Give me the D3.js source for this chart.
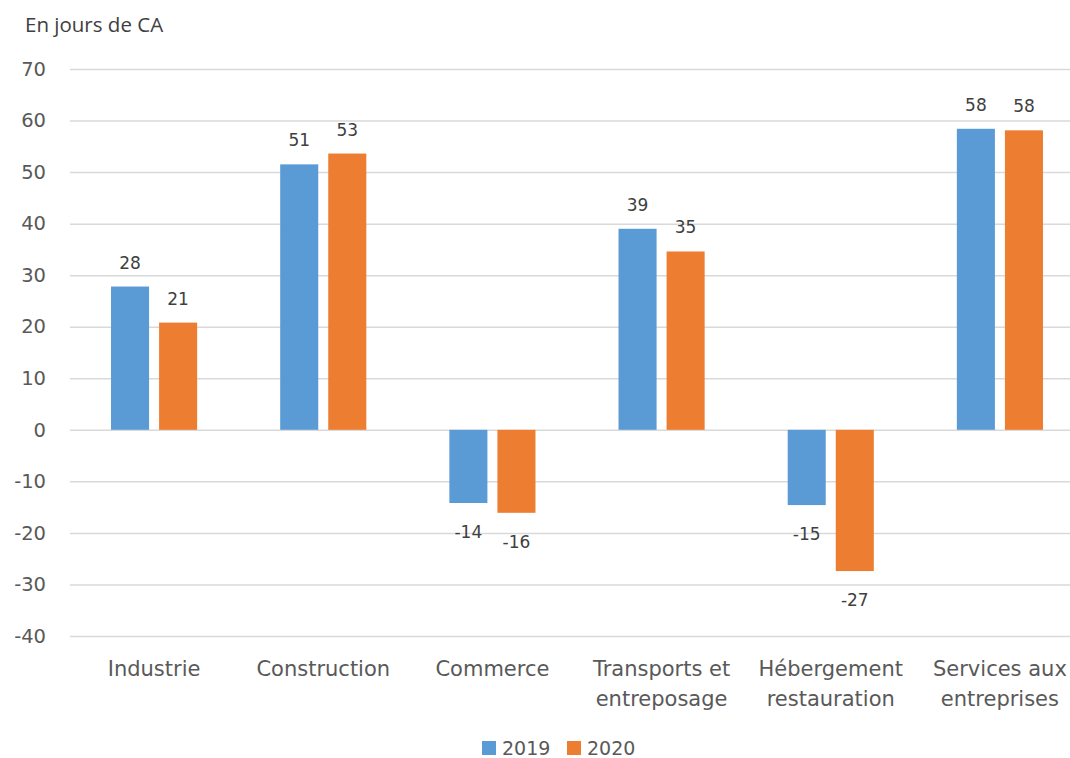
<!DOCTYPE html>
<html><head><meta charset="utf-8">
<script src="https://cdn.jsdelivr.net/npm/d3@7"></script>
<style>body{margin:0;background:#fff}svg{display:block}</style>
</head><body>
<script>
const categories = [["Industrie"],["Construction"],["Commerce"],["Transports et","entreposage"],["Hébergement","restauration"],["Services aux","entreprises"]];
const series = ["2019","2020"];
const values2019 = [27.8, 51.5, -14.2, 39.0, -14.6, 58.4];
const values2020 = [20.8, 53.6, -16.1, 34.6, -27.4, 58.1];
const labels2019 = ["28","51","-14","39","-15","58"];
const labels2020 = ["21","53","-16","35","-27","58"];
const yTicks = [70,60,50,40,30,20,10,0,-10,-20,-30,-40];
const colors = ["#5B9BD5","#ED7D31"];

const W=1070,H=758;
const svg=d3.select("body").append("svg").attr("width",W).attr("height",H);
const font="'DejaVu Sans', Verdana, sans-serif";
const y=d3.scaleLinear().domain([-40,70]).range([636,69]);
const x=d3.scaleBand().domain(d3.range(categories.length)).range([69.5,1084.5]).paddingInner(0).paddingOuter(0);
const xs=d3.scaleBand().domain(series).range([0,x.bandwidth()]).paddingInner(0.2083).paddingOuter(0.864);

svg.append("text").attr("x",25).attr("y",32).attr("font-family","'Open Sans', sans-serif").attr("font-size",20.5).attr("fill","#404040").text("En jours de CA");

const yAxis=svg.append("g").attr("transform","translate(70,0)")
 .call(d3.axisLeft(y).tickValues(yTicks).tickSize(-1015).tickFormat(d=>String(d)).tickPadding(24));
yAxis.select(".domain").remove();
yAxis.selectAll("line").attr("stroke","#D9D9D9").attr("stroke-width",1.5);
yAxis.selectAll("text").attr("font-family",font).attr("font-size",19.5).attr("fill","#595959");

const data=[values2019,values2020];
const lbls=[labels2019,labels2020];
series.forEach((s,si)=>{
  const g=svg.append("g");
  g.selectAll("rect").data(data[si]).join("rect")
   .attr("x",(d,i)=>x(i)+xs(s)).attr("width",xs.bandwidth())
   .attr("y",d=>y(Math.max(0,d))).attr("height",d=>Math.abs(y(d)-y(0)))
   .attr("fill",colors[si]);
  g.selectAll("text").data(data[si]).join("text")
   .attr("x",(d,i)=>x(i)+xs(s)+xs.bandwidth()/2)
   .attr("y",d=>d>=0?y(d)-18:y(d)+35)
   .attr("text-anchor","middle").attr("font-family",font).attr("font-size",17).attr("fill","#404040")
   .text((d,i)=>lbls[si][i]);
});

const xl=svg.append("g");
categories.forEach((c,i)=>{
  const t=xl.append("text").attr("x",x(i)+x.bandwidth()/2).attr("y",676).attr("text-anchor","middle")
   .attr("font-family",font).attr("font-size",21).attr("fill","#595959");
  c.forEach((line,j)=>t.append("tspan").attr("x",x(i)+x.bandwidth()/2).attr("dy",j?30:0).text(line));
});

const leg=svg.append("g");
const legX=[482,567];
series.forEach((s,si)=>{
  leg.append("rect").attr("x",legX[si]).attr("y",741).attr("width",14).attr("height",14).attr("fill",colors[si]);
  leg.append("text").attr("x",legX[si]+20).attr("y",755).attr("font-family",font).attr("font-size",19).attr("fill","#595959").text(s);
});
</script>
</body></html>
